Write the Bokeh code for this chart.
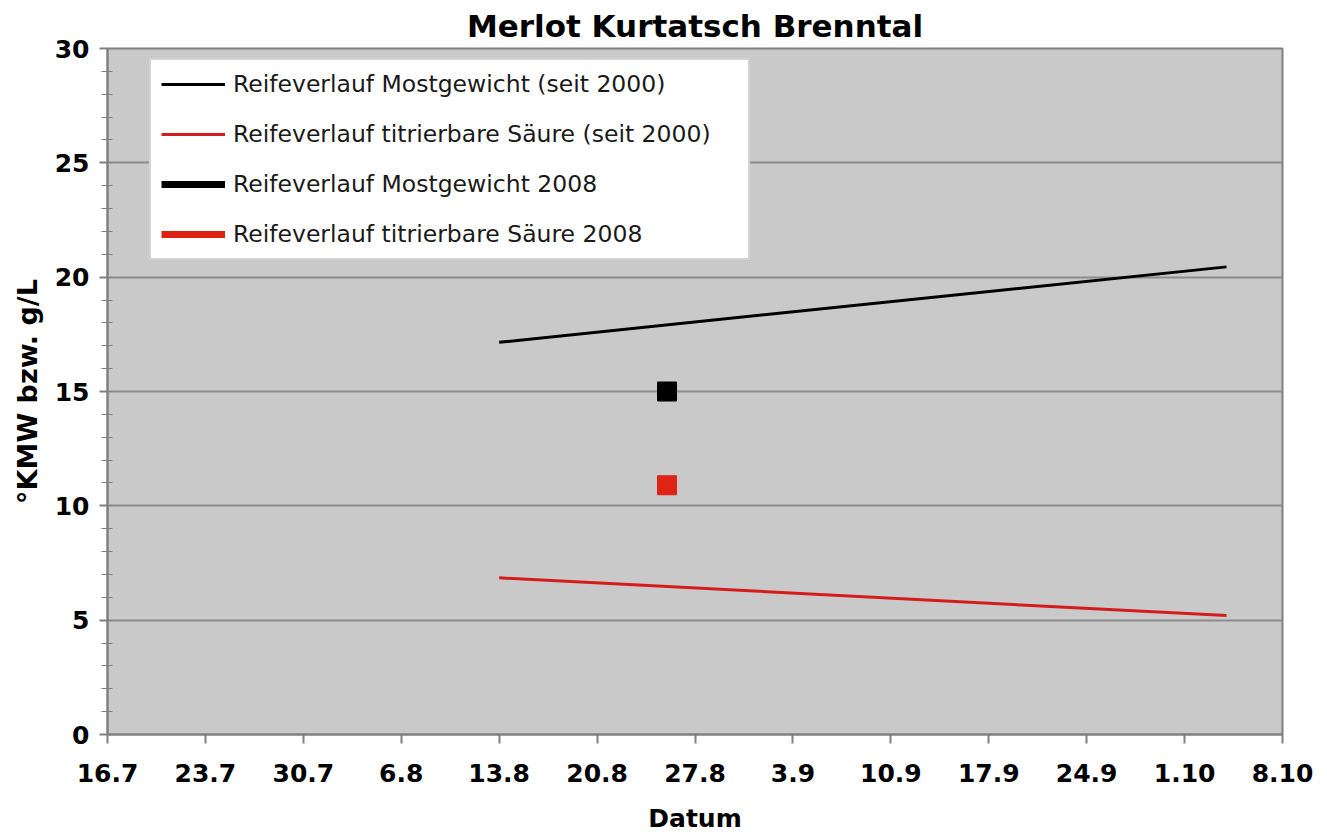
import datetime as dt
from bokeh.plotting import figure
from bokeh.models import FixedTicker, Legend, LegendItem, Range1d, ColumnDataSource
from bokeh.embed import file_html
from bokeh.resources import INLINE

YEAR = 2008
ORIGIN = "16.7"

# ---- data ----
tick_labels = ["16.7", "23.7", "30.7", "6.8", "13.8", "20.8", "27.8",
               "3.9", "10.9", "17.9", "24.9", "1.10", "8.10"]

trend_dates = ["13.8", "4.10"]
trend_mostgewicht = [17.15, 20.45]
trend_saeure = [6.85, 5.2]

dates_2008 = ["25.8"]
mostgewicht_2008 = [15.0]
saeure_2008 = [10.9]

y_ticks = [0, 5, 10, 15, 20, 25, 30]


def day(s):
    d, m = (int(v) for v in s.split("."))
    o_d, o_m = (int(v) for v in ORIGIN.split("."))
    return (dt.date(YEAR, m, d) - dt.date(YEAR, o_m, o_d)).days


tick_pos = [day(s) for s in tick_labels]

FONT = "DejaVu Sans"

p = figure(width=1327, height=835, output_backend="svg", toolbar_location=None,
           x_range=Range1d(tick_pos[0], tick_pos[-1]), y_range=Range1d(0, 30),
           min_border_left=107, min_border_right=45, min_border_top=47, min_border_bottom=101,
           background_fill_color="#c9c9c9", border_fill_color="white",
           outline_line_color="#808080", outline_line_width=2,
           title="Merlot Kurtatsch Brenntal")

p.title.align = "center"
p.title.text_font = FONT
p.title.text_font_size = "31px"
p.title.text_font_style = "bold"
p.title.text_color = "black"
p.title.standoff = 10

# axes
p.xaxis.ticker = FixedTicker(ticks=tick_pos, minor_ticks=[])
p.xaxis.major_label_overrides = {pos: lab for pos, lab in zip(tick_pos, tick_labels)}
p.yaxis.ticker = FixedTicker(ticks=y_ticks, minor_ticks=list(range(0, 31)))

for ax in (p.xaxis[0], p.yaxis[0]):
    ax.axis_line_color = "#808080"
    ax.axis_line_width = 2
    ax.major_tick_line_color = "#808080"
    ax.major_tick_line_width = 2
    ax.minor_tick_line_color = "#808080"
    ax.major_label_text_font = FONT
    ax.major_label_text_font_size = "25px"
    ax.major_label_text_font_style = "bold"
    ax.major_label_text_color = "black"
    ax.axis_label_text_font = FONT
    ax.axis_label_text_font_style = "bold"
    ax.axis_label_text_color = "black"

p.xaxis.major_tick_in = 0
p.xaxis.major_tick_out = 9
p.xaxis.major_label_standoff = 20
p.xaxis.axis_label = "Datum"
p.xaxis.axis_label_text_font_size = "25px"
p.xaxis.axis_label_standoff = 19

p.yaxis.major_tick_in = 0
p.yaxis.major_tick_out = 8
p.yaxis.minor_tick_out = 6
p.yaxis.minor_tick_in = 5
p.yaxis.major_label_standoff = 10
p.yaxis.axis_label = "°KMW bzw. g/L"
p.yaxis.axis_label_text_font_size = "27px"
p.yaxis.axis_label_standoff = 9

p.xgrid.visible = False
p.ygrid.grid_line_color = "#8c8c8c"
p.ygrid.grid_line_width = 2

# series
td = [day(s) for s in trend_dates]
d08 = [day(s) for s in dates_2008]

r1 = p.line(td, trend_mostgewicht, line_color="black", line_width=3)
r2 = p.line(td, trend_saeure, line_color="#d41c1c", line_width=3)

src08 = ColumnDataSource(dict(x=d08, must=mostgewicht_2008, acid=saeure_2008))
r3 = p.line("x", "must", source=src08, line_color="black", line_width=7)
r4 = p.line("x", "acid", source=src08, line_color="#dd2211", line_width=7)
p.scatter("x", "must", source=src08, marker="square", size=19,
          fill_color="black", line_color="black")
p.scatter("x", "acid", source=src08, marker="square", size=19,
          fill_color="#e02414", line_color="#e02414")

legend = Legend(items=[
    LegendItem(label="Reifeverlauf Mostgewicht (seit 2000)", renderers=[r1]),
    LegendItem(label="Reifeverlauf titrierbare Säure (seit 2000)", renderers=[r2]),
    LegendItem(label="Reifeverlauf Mostgewicht 2008", renderers=[r3]),
    LegendItem(label="Reifeverlauf titrierbare Säure 2008", renderers=[r4]),
], location=(42, 474))
legend.padding = 10
legend.margin = 0
legend.spacing = 22
legend.label_height = 26
legend.glyph_height = 26
legend.glyph_width = 64
legend.label_standoff = 8
legend.label_width = 505
legend.label_text_font = FONT
legend.label_text_font_size = "23.5px"
legend.label_text_color = "#1a1a1a"
legend.border_line_color = "#a8a8a8"
legend.border_line_width = 2
legend.background_fill_color = "white"
legend.background_fill_alpha = 1.0
p.add_layout(legend)

open("out.html", "w").write(file_html(p, INLINE))
